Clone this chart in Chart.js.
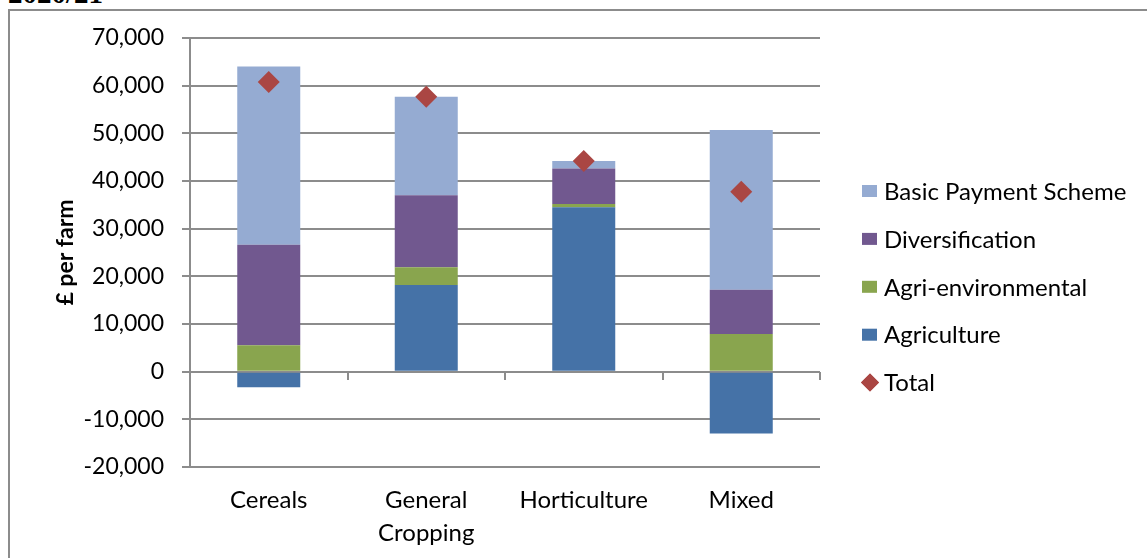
<!DOCTYPE html>
<html>
<head>
<meta charset="utf-8">
<script src="https://cdn.jsdelivr.net/npm/chart.js@4/dist/chart.umd.min.js"></script>
<style>
  html, body { margin: 0; padding: 0; background: #fff; }
  body { width: 1147px; height: 558px; position: relative; overflow: hidden; }
  #frame {
    position: absolute; left: 8px; top: 9px; width: 1300px; height: 700px;
    border-left: 2px solid #8c8c8c; border-top: 2px solid #8c8c8c;
  }
  #year {
    position: absolute; left: 8px; top: -21px;
    font: bold 29px "Liberation Serif", serif; line-height: 29px; color: #000;
  }
  #chart { position: absolute; left: 0; top: 0; }
</style>
</head>
<body>
<div id="year">2020/21</div>
<div id="frame"></div>
<canvas id="chart" width="1147" height="558"></canvas>
<script>
// Farm income by source, £ per farm
const categories = [['Cereals'], ['General', 'Cropping'], ['Horticulture'], ['Mixed']];
const agriculture       = [-3250, 18200, 34500, -12950];
const agriEnvironmental = [5550, 3700, 700, 7900];
const diversification   = [21100, 15100, 7400, 9300];
const basicPayment      = [37350, 20700, 1600, 33500];
const total             = [60750, 57700, 44200, 37750];

const FONT = 'Lato';
const GRID = '#8c8c8c';

// ── Legend on the right, drawn from the datasets ────────────────────
const sideLegend = {
  id: 'sideLegend',
  afterDraw(chart) {
    const ctx = chart.ctx;
    const all = chart.data.datasets;
    const bars = all.filter(d => d.type !== 'line').reverse();
    const marks = all.filter(d => d.type === 'line');
    const x = chart.chartArea.right + 42;
    let y = 191;
    ctx.save();
    ctx.font = `24px ${FONT}`;
    ctx.textBaseline = 'middle';
    bars.forEach(d => {
      ctx.fillStyle = d.backgroundColor;
      ctx.fillRect(x, y - 6, 15, 12);
      ctx.fillStyle = '#000';
      ctx.fillText(d.label, x + 22, y + 1);
      y += 47.9;
    });
    marks.forEach(d => {
      ctx.fillStyle = d.backgroundColor;
      Chart.helpers.drawPoint(ctx, { pointStyle: 'rectRot', radius: 9, borderWidth: 0 }, x + 8, y);
      ctx.fill();
      ctx.fillStyle = '#000';
      ctx.fillText(d.label, x + 22, y + 1);
      y += 47.9;
    });
    ctx.restore();
  }
};

const bar = (label, data, color) => ({
  type: 'bar', label, data,
  backgroundColor: color,
  borderWidth: 0,
  stack: 'income',
  order: 1,
  barPercentage: 0.4,
  categoryPercentage: 1.0,
});

new Chart(document.getElementById('chart'), {
  data: {
    labels: categories,
    datasets: [
      bar('Agriculture', agriculture, '#4572A7'),
      bar('Agri-environmental', agriEnvironmental, '#89A54E'),
      bar('Diversification', diversification, '#71588F'),
      bar('Basic Payment Scheme', basicPayment, '#95ABD2'),
      {
        type: 'line', label: 'Total', data: total,
        showLine: false,
        stack: 'total',
        order: 0,
        pointStyle: 'rectRot',
        pointRadius: 11,
        pointBorderWidth: 0,
        backgroundColor: '#AA4643',
        borderColor: '#AA4643',
      }
    ]
  },
  options: {
    responsive: false,
    animation: false,
    layout: { padding: { left: 0, top: 38, right: 327, bottom: 0 } },
    plugins: {
      legend: { display: false },
      tooltip: { enabled: false },
    },
    scales: {
      x: {
        stacked: true,
        grid: { display: false, drawTicks: false },
        border: { display: false },
        ticks: {
          color: '#000', padding: 17, maxRotation: 0, autoSkip: false,
          font: { family: FONT, size: 24, lineHeight: 1.375 },
        },
        afterFit: (s) => { s.height = 91; },
      },
      // category boundary ticks sitting on the zero line
      xZero: {
        type: 'category',
        position: { y: 0 },
        offset: true,
        grid: { offset: true, drawOnChartArea: false, drawTicks: true, tickLength: 8, color: GRID, lineWidth: 2 },
        border: { display: false },
        ticks: { display: false },
      },
      y: {
        stacked: true,
        min: -20000,
        max: 70000,
        grid: { color: GRID, lineWidth: 2, tickLength: 8 },
        border: { color: GRID, width: 2 },
        ticks: {
          stepSize: 10000, padding: 18, color: '#000',
          font: { family: FONT, size: 23 },
          callback: (v) => v.toLocaleString('en-US'),
        },
        title: {
          display: true, text: '£ per farm', color: '#000',
          font: { family: FONT, size: 23, weight: 'bold' },
          padding: { top: 52, bottom: 0 },
        },
        afterFit: (s) => { s.width = 190; },
      }
    }
  },
  plugins: [sideLegend]
});
</script>
</body>
</html>
